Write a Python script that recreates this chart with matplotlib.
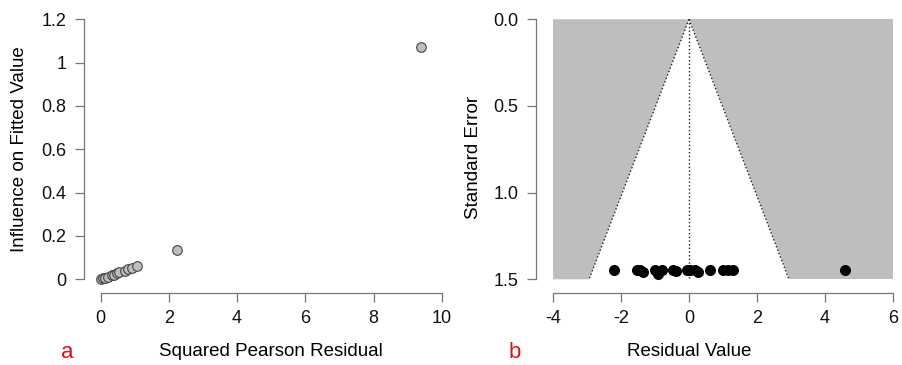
import numpy as np
import matplotlib
matplotlib.use("Agg")
import matplotlib.pyplot as plt

plt.rcParams["font.family"] = ["Liberation Sans", "DejaVu Sans"]
plt.rcParams["axes.unicode_minus"] = False

# panel a: squared pearson residual vs influence on fitted value
sq_resid = [0.02, 0.08, 0.12, 0.20, 0.32, 0.38, 0.47, 0.55, 0.71, 0.80,
            0.91, 1.05, 2.23, 9.38]
influence = [0.002, 0.005, 0.007, 0.012, 0.018, 0.022, 0.027, 0.032, 0.040, 0.046,
             0.052, 0.062, 0.135, 1.073]

# panel b: funnel plot of residuals
resid_val = [-2.2, -1.53, -1.44, -1.35, -1.0, -0.91, -0.79, -0.47, -0.38, -0.06,
             0.03, 0.18, 0.26, 0.62, 1.0, 1.15, 1.3, 4.59]
std_err = [1.448, 1.448, 1.448, 1.46, 1.448, 1.468, 1.448, 1.448, 1.455, 1.448,
           1.448, 1.448, 1.46, 1.448, 1.448, 1.448, 1.448, 1.448]
se_max = 1.5
z = 1.96

W, H = 902, 365
fig = plt.figure(figsize=(W / 100, H / 100), dpi=100)

def px_axes(x0, y0, x1, y1):
    # pixel box (top-left origin) -> figure fraction
    return fig.add_axes([x0 / W, 1 - y1 / H, (x1 - x0) / W, (y1 - y0) / H])

axis_col = "#777777"
tick_fs = 13
lab_fs = 13.5

def r_style(ax):
    for s in ["top", "right"]:
        ax.spines[s].set_visible(False)
    for s in ["left", "bottom"]:
        ax.spines[s].set_color(axis_col)
        ax.spines[s].set_linewidth(0.9)
    ax.tick_params(direction="out", length=6.5, width=0.9, color=axis_col,
                   labelsize=tick_fs, labelcolor="#111111", pad=6)

# ---- panel a
ax1 = px_axes(84, 6, 459, 293)
ax1.scatter(sq_resid, influence, s=48, facecolor="#BEBEBE", edgecolor="#444444",
            linewidth=0.8, zorder=3)
# pixel scale: 0 -> 100.7, 10 -> 441.7 ; 0 -> 279.3, 1.2 -> 19.3
ax1.set_xlim(-(100.7 - 84) / 34.1, 10 + (459 - 441.7) / 34.1)
ax1.set_ylim(-(293 - 279.3) / 216.7, 1.2 + (19.3 - 6) / 216.7)
ax1.set_xticks([0, 2, 4, 6, 8, 10])
ax1.set_yticks([0, 0.2, 0.4, 0.6, 0.8, 1.0, 1.2])
ax1.set_yticklabels(["0", "0.2", "0.4", "0.6", "0.8", "1", "1.2"])
r_style(ax1)
ax1.spines["left"].set_bounds(0, 1.2)
ax1.spines["bottom"].set_bounds(0, 10)

# ---- panel b
ax2 = px_axes(536, 6, 902, 293)
xl, xr = -4, 6
ax2.fill([xl, 0, -z * se_max, xl], [0, 0, se_max, se_max], color="#BEBEBE", lw=0)
ax2.fill([0, xr, xr, z * se_max], [0, 0, se_max, se_max], color="#BEBEBE", lw=0)
ax2.plot([0, -z * se_max], [0, se_max], color="#222222", ls=":", lw=1)
ax2.plot([0, z * se_max], [0, se_max], color="#222222", ls=":", lw=1)
ax2.plot([0, 0], [0, se_max], color="#222222", ls=":", lw=1)
ax2.scatter(resid_val, std_err, s=48, color="black", zorder=3)
# pixel scale: -4 -> 553, 6 -> 893 ; 0 -> 19.3, 1.5 -> 279.3
ax2.set_xlim(-4 - (553 - 536) / 34.0, 6 + (902 - 893) / 34.0)
ax2.set_ylim(1.5 + (293 - 279.3) / 173.3, -(19.3 - 6) / 173.3)
ax2.set_xticks([-4, -2, 0, 2, 4, 6])
ax2.set_yticks([0.0, 0.5, 1.0, 1.5])
ax2.set_yticklabels(["0.0", "0.5", "1.0", "1.5"])
r_style(ax2)
ax2.spines["left"].set_bounds(0, 1.5)
ax2.spines["bottom"].set_bounds(-4, 6)

# axis titles placed in figure pixels
fig.text(271 / W, 1 - 352 / H, "Squared Pearson Residual", fontsize=lab_fs,
         ha="center", va="center")
fig.text(20 / W, 1 - 149 / H, "Influence on Fitted Value", fontsize=lab_fs,
         ha="center", va="center", rotation=90)
fig.text(689 / W, 1 - 352 / H, "Residual Value", fontsize=lab_fs,
         ha="center", va="center")
fig.text(473 / W, 1 - 157 / H, "Standard Error", fontsize=lab_fs,
         ha="center", va="center", rotation=90)

fig.text(67 / W, 1 - 353 / H, "a", color="#DD1111", fontsize=16,
         ha="center", va="center")
fig.text(515 / W, 1 - 353 / H, "b", color="#DD1111", fontsize=16,
         ha="center", va="center")

fig.savefig("out.png", dpi=100)
